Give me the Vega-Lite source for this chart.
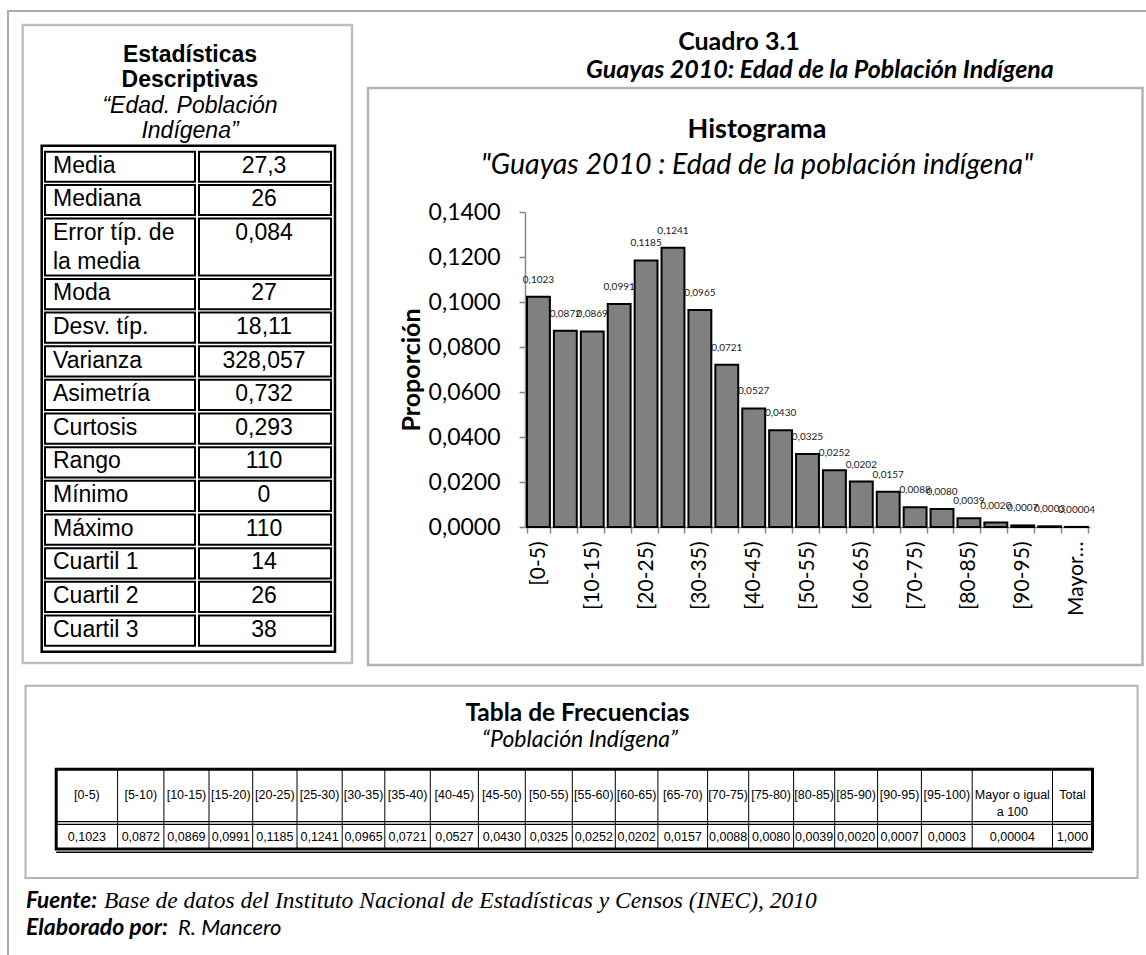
{
  "$schema": "https://vega.github.io/schema/vega-lite/v6.json",
  "width": 1146,
  "height": 955,
  "autosize": {"type": "none"},
  "padding": 0,
  "background": "#ffffff",
  "config": {"view": {"stroke": null}, "text": {"color": "#000000"}},
  "datasets": {
    "hist": [
      {"bin": "[0-5)", "p": 0.1023, "label": "0,1023"},
      {"bin": "[5-10)", "p": 0.0872, "label": "0,0872"},
      {"bin": "[10-15)", "p": 0.0869, "label": "0,0869"},
      {"bin": "[15-20)", "p": 0.0991, "label": "0,0991"},
      {"bin": "[20-25)", "p": 0.1185, "label": "0,1185"},
      {"bin": "[25-30)", "p": 0.1241, "label": "0,1241"},
      {"bin": "[30-35)", "p": 0.0965, "label": "0,0965"},
      {"bin": "[35-40)", "p": 0.0721, "label": "0,0721"},
      {"bin": "[40-45)", "p": 0.0527, "label": "0,0527"},
      {"bin": "[45-50)", "p": 0.0430, "label": "0,0430"},
      {"bin": "[50-55)", "p": 0.0325, "label": "0,0325"},
      {"bin": "[55-60)", "p": 0.0252, "label": "0,0252"},
      {"bin": "[60-65)", "p": 0.0202, "label": "0,0202"},
      {"bin": "[65-70)", "p": 0.0157, "label": "0,0157"},
      {"bin": "[70-75)", "p": 0.0088, "label": "0,0088"},
      {"bin": "[75-80)", "p": 0.0080, "label": "0,0080"},
      {"bin": "[80-85)", "p": 0.0039, "label": "0,0039"},
      {"bin": "[85-90)", "p": 0.0020, "label": "0,0020"},
      {"bin": "[90-95)", "p": 0.0007, "label": "0,0007"},
      {"bin": "[95-100)", "p": 0.0003, "label": "0,0003"},
      {"bin": "Mayor o igual a 100", "p": 0.00004, "label": "0,00004"}
    ],
    "stats": [
      {"row": 0, "next": 1, "stat": "Media", "value": "27,3"},
      {"row": 1, "next": 2, "stat": "Mediana", "value": "26"},
      {"row": 2, "next": 3, "stat": ["Error típ. de", "la media"], "value": "0,084"},
      {"row": 3, "next": 4, "stat": "Moda", "value": "27"},
      {"row": 4, "next": 5, "stat": "Desv. típ.", "value": "18,11"},
      {"row": 5, "next": 6, "stat": "Varianza", "value": "328,057"},
      {"row": 6, "next": 7, "stat": "Asimetría", "value": "0,732"},
      {"row": 7, "next": 8, "stat": "Curtosis", "value": "0,293"},
      {"row": 8, "next": 9, "stat": "Rango", "value": "110"},
      {"row": 9, "next": 10, "stat": "Mínimo", "value": "0"},
      {"row": 10, "next": 11, "stat": "Máximo", "value": "110"},
      {"row": 11, "next": 12, "stat": "Cuartil 1", "value": "14"},
      {"row": 12, "next": 13, "stat": "Cuartil 2", "value": "26"},
      {"row": 13, "next": 14, "stat": "Cuartil 3", "value": "38"}
    ],
    "freq": [
      {"col": 0, "header": "[0-5)", "value": "0,1023"},
      {"col": 1, "header": "[5-10)", "value": "0,0872"},
      {"col": 2, "header": "[10-15)", "value": "0,0869"},
      {"col": 3, "header": "[15-20)", "value": "0,0991"},
      {"col": 4, "header": "[20-25)", "value": "0,1185"},
      {"col": 5, "header": "[25-30)", "value": "0,1241"},
      {"col": 6, "header": "[30-35)", "value": "0,0965"},
      {"col": 7, "header": "[35-40)", "value": "0,0721"},
      {"col": 8, "header": "[40-45)", "value": "0,0527"},
      {"col": 9, "header": "[45-50)", "value": "0,0430"},
      {"col": 10, "header": "[50-55)", "value": "0,0325"},
      {"col": 11, "header": "[55-60)", "value": "0,0252"},
      {"col": 12, "header": "[60-65)", "value": "0,0202"},
      {"col": 13, "header": "[65-70)", "value": "0,0157"},
      {"col": 14, "header": "[70-75)", "value": "0,0088"},
      {"col": 15, "header": "[75-80)", "value": "0,0080"},
      {"col": 16, "header": "[80-85)", "value": "0,0039"},
      {"col": 17, "header": "[85-90)", "value": "0,0020"},
      {"col": 18, "header": "[90-95)", "value": "0,0007"},
      {"col": 19, "header": "[95-100)", "value": "0,0003"},
      {"col": 20, "header": ["Mayor o igual", "a 100"], "value": "0,00004"},
      {"col": 21, "header": "Total", "value": "1,000"}
    ]
  },
  "data": {"values": [{}]},
  "resolve": {"scale": {"x": "independent", "y": "independent"}, "axis": {"x": "independent", "y": "independent"}},
  "layer": [
    {
      "data": {"name": "hist"},
      "encoding": {
        "x": {
          "field": "bin", "type": "nominal", "sort": null,
          "scale": {"range": [525, 1090], "paddingInner": 0.15, "paddingOuter": 0.075},
          "axis": {
            "orient": "bottom", "offset": -428, "title": null, "labelAngle": -90,
            "labelExpr": "indexof(['[0-5)','[10-15)','[20-25)','[30-35)','[40-45)','[50-55)','[60-65)','[70-75)','[80-85)','[90-95)'], datum.value) >= 0 ? datum.value : (datum.value == 'Mayor o igual a 100' ? 'Mayor…' : '')",
            "labelFont": "Lato", "labelFontSize": 21, "labelColor": "#000000", "labelPadding": 8,
            "labelOverlap": false, "tickBand": "extent", "tickSize": 6, "tickWidth": 1.5,
            "tickColor": "#868686", "domainColor": "#868686", "domainWidth": 1.5
          }
        },
        "y": {
          "field": "p", "type": "quantitative",
          "scale": {"domain": [0, 0.14], "range": [527, 212], "nice": false},
          "axis": {
            "orient": "left", "offset": -525, "values": [0, 0.02, 0.04, 0.06, 0.08, 0.1, 0.12, 0.14],
            "labelExpr": "replace(format(datum.value, '.4f'), '.', ',')",
            "title": "Proporción", "titleFont": "Lato", "titleFontSize": 25, "titleFontWeight": "bold",
            "titleColor": "#000000", "titlePadding": 4,
            "labelFont": "Lato", "labelFontSize": 23, "labelColor": "#000000", "labelPadding": 19,
            "grid": false, "tickSize": 6, "tickWidth": 1.5, "tickColor": "#868686",
            "domainColor": "#868686", "domainWidth": 1.5
          }
        }
      },
      "layer": [
        {"mark": {"type": "bar", "fill": "#808080", "stroke": "#000000", "strokeWidth": 2}},
        {"mark": {"type": "text", "font": "Lato", "fontSize": 10, "baseline": "middle", "dy": -17, "color": "#1a1a1a"},
         "encoding": {"text": {"field": "label"}}}
      ]
    },
    {
      "data": {"name": "stats"},
      "layer": [
        {
          "mark": {"type": "rect", "fill": "transparent", "stroke": "#000000", "strokeWidth": 2, "yOffset": 1.7, "y2Offset": -1.7, "x2Offset": -2},
          "encoding": {
            "x": {"datum": 0, "type": "quantitative", "scale": {"type": "linear", "domain": [0, 1, 2], "range": [45, 197, 331], "nice": false, "zero": false}, "axis": null},
            "x2": {"datum": 1},
            "y": {"field": "row", "type": "quantitative", "scale": {"type": "linear", "domain": [0, 1, 2, 3, 14], "range": [150, 183.4, 216.7, 277.2, 647.4], "nice": false, "zero": false}, "axis": null},
            "y2": {"field": "next"}
          }
        },
        {
          "mark": {"type": "rect", "fill": "transparent", "stroke": "#000000", "strokeWidth": 2, "yOffset": 1.7, "y2Offset": -1.7, "xOffset": 2},
          "encoding": {
            "x": {"datum": 1, "type": "quantitative", "axis": null},
            "x2": {"datum": 2},
            "y": {"field": "row", "type": "quantitative", "axis": null},
            "y2": {"field": "next"}
          }
        },
        {
          "data": {"values": [{}]},
          "mark": {"type": "rect", "fill": "transparent", "stroke": "#000000", "strokeWidth": 2.5, "xOffset": -3.3, "x2Offset": 4, "yOffset": -4.3, "y2Offset": 4.3},
          "encoding": {
            "x": {"datum": 0, "type": "quantitative", "axis": null},
            "x2": {"datum": 2},
            "y": {"datum": 0, "type": "quantitative", "axis": null},
            "y2": {"datum": 14}
          }
        },
        {
          "mark": {"type": "text", "font": "Liberation Sans", "fontSize": 23, "align": "left", "baseline": "top", "dx": 8, "dy": 5, "lineHeight": 29},
          "encoding": {
            "x": {"datum": 0, "type": "quantitative", "axis": null},
            "y": {"field": "row", "type": "quantitative", "axis": null},
            "text": {"field": "stat"}
          }
        },
        {
          "mark": {"type": "text", "font": "Liberation Sans", "fontSize": 23, "align": "center", "baseline": "top", "dy": 5},
          "encoding": {
            "x": {"datum": 1.5, "type": "quantitative", "axis": null},
            "y": {"field": "row", "type": "quantitative", "axis": null},
            "text": {"field": "value"}
          }
        }
      ]
    },
    {
      "resolve": {"scale": {"x": "independent"}},
      "layer": [
        {
          "layer": [
            {
              "data": {"values": [{}]},
              "mark": {"type": "rect", "fill": "transparent", "stroke": "#000000", "strokeWidth": 3},
              "encoding": {
                "x": {"datum": 0, "type": "quantitative", "scale": {"type": "linear", "domain": [0,1,2,3,4,5,6,7,8,9,10,11,12,13,14,15,16,17,18,19,20,21,22], "range": [56.2,117.6,163.9,209,252.7,297,342.2,384.8,430.3,478.4,525.3,572.3,615.3,657.9,707.6,748.7,793.6,834.7,877.6,921.4,972.2,1052.5,1092.5], "nice": false, "zero": false}, "axis": null},
                "x2": {"datum": 22},
                "y": {"datum": 0, "type": "quantitative", "scale": {"type": "linear", "domain": [0, 1, 2], "range": [769.3, 822.7, 849], "nice": false, "zero": false}, "axis": null},
                "y2": {"datum": 2}
              }
            },
            {
              "data": {"name": "freq"},
              "mark": {"type": "rule", "stroke": "#000000", "strokeWidth": 1},
              "encoding": {
                "x": {"field": "col", "type": "quantitative", "axis": null},
                "y": {"datum": 0, "type": "quantitative", "axis": null},
                "y2": {"datum": 2}
              }
            },
            {
              "data": {"values": [{}]},
              "mark": {"type": "rule", "stroke": "#000000", "strokeWidth": 1.2, "yOffset": -1},
              "encoding": {
                "x": {"datum": 0, "type": "quantitative", "axis": null},
                "x2": {"datum": 22},
                "y": {"datum": 1, "type": "quantitative", "axis": null}
              }
            },
            {
              "data": {"values": [{}]},
              "mark": {"type": "rule", "stroke": "#000000", "strokeWidth": 1.2, "yOffset": 1.6},
              "encoding": {
                "x": {"datum": 0, "type": "quantitative", "axis": null},
                "x2": {"datum": 22},
                "y": {"datum": 1, "type": "quantitative", "axis": null}
              }
            },
            {
              "data": {"values": [{}]},
              "mark": {"type": "rule", "stroke": "#000000", "strokeWidth": 1.5, "yOffset": 3.2},
              "encoding": {
                "x": {"datum": 0, "type": "quantitative", "axis": null},
                "x2": {"datum": 22},
                "y": {"datum": 2, "type": "quantitative", "axis": null}
              }
            }
          ]
        },
        {
          "data": {"name": "freq"},
          "layer": [
            {
              "mark": {"type": "text", "font": "Liberation Sans", "fontSize": 12.5, "align": "center", "baseline": "middle", "lineHeight": 17, "dy": -1},
              "encoding": {
                "x": {"field": "col", "type": "quantitative", "scale": {"type": "linear", "domain": [0,1,2,3,4,5,6,7,8,9,10,11,12,13,14,15,16,17,18,19,20,21], "range": [86.9,140.75,186.45,230.85,274.85,319.6,363.5,407.55,454.35,501.85,548.8,593.8,636.6,682.75,728.15,771.15,814.15,856.15,899.5,946.8,1012.35,1072.5], "nice": false, "zero": false}, "axis": null},
                "y": {"datum": 0.5, "type": "quantitative", "axis": null},
                "text": {"field": "header"}
              }
            },
            {
              "mark": {"type": "text", "font": "Liberation Sans", "fontSize": 12.5, "align": "center", "baseline": "middle", "dy": 1},
              "encoding": {
                "x": {"field": "col", "type": "quantitative", "axis": null},
                "y": {"datum": 1.5, "type": "quantitative", "axis": null},
                "text": {"field": "value"}
              }
            }
          ]
        }
      ]
    },
    {
      "layer": [
        {
          "mark": {"type": "rect", "fill": "transparent", "stroke": "#ababab", "strokeWidth": 2},
          "encoding": {
            "x": {"datum": 8, "type": "quantitative", "scale": {"domain": [0, 1146], "range": [0, 1146], "nice": false, "zero": false}, "axis": null},
            "x2": {"datum": 1170},
            "y": {"datum": 11, "type": "quantitative", "scale": {"domain": [0, 955], "range": [0, 955], "nice": false, "zero": false}, "axis": null},
            "y2": {"datum": 980}
          }
        },
        {
          "mark": {"type": "rect", "fill": "transparent", "stroke": "#bfbfbf", "strokeWidth": 2.5},
          "encoding": {
            "x": {"datum": 22.7, "type": "quantitative", "axis": null},
            "x2": {"datum": 352},
            "y": {"datum": 25, "type": "quantitative", "axis": null},
            "y2": {"datum": 663}
          }
        },
        {
          "mark": {"type": "rect", "fill": "transparent", "stroke": "#b3b3b3", "strokeWidth": 2.5},
          "encoding": {
            "x": {"datum": 368, "type": "quantitative", "axis": null},
            "x2": {"datum": 1142.5},
            "y": {"datum": 88, "type": "quantitative", "axis": null},
            "y2": {"datum": 665}
          }
        },
        {
          "mark": {"type": "rect", "fill": "transparent", "stroke": "#b3b3b3", "strokeWidth": 2},
          "encoding": {
            "x": {"datum": 25.5, "type": "quantitative", "axis": null},
            "x2": {"datum": 1137.6},
            "y": {"datum": 685.7, "type": "quantitative", "axis": null},
            "y2": {"datum": 878}
          }
        },
        {
          "mark": {"type": "text", "text": ["Estadísticas", "Descriptivas"], "font": "Liberation Sans", "fontSize": 23, "fontWeight": "bold", "align": "center", "baseline": "alphabetic", "lineHeight": 25.6},
          "encoding": {"x": {"datum": 190, "type": "quantitative", "axis": null}, "y": {"datum": 61.7, "type": "quantitative", "axis": null}}
        },
        {
          "mark": {"type": "text", "text": ["“Edad. Población", "Indígena”"], "font": "Liberation Sans", "fontSize": 23, "fontStyle": "italic", "align": "center", "baseline": "alphabetic", "lineHeight": 25},
          "encoding": {"x": {"datum": 190, "type": "quantitative", "axis": null}, "y": {"datum": 113.3, "type": "quantitative", "axis": null}}
        },
        {
          "mark": {"type": "text", "text": "Cuadro 3.1", "font": "Lato", "fontSize": 25, "fontWeight": "bold", "align": "center", "baseline": "alphabetic"},
          "encoding": {"x": {"datum": 739, "type": "quantitative", "axis": null}, "y": {"datum": 50, "type": "quantitative", "axis": null}}
        },
        {
          "mark": {"type": "text", "text": "Guayas 2010: Edad de la Población Indígena", "font": "Lato", "fontSize": 25, "fontWeight": "bold", "fontStyle": "italic", "align": "center", "baseline": "alphabetic"},
          "encoding": {"x": {"datum": 820, "type": "quantitative", "axis": null}, "y": {"datum": 78, "type": "quantitative", "axis": null}}
        },
        {
          "mark": {"type": "text", "text": "Histograma", "font": "Lato", "fontSize": 27, "fontWeight": "bold", "align": "center", "baseline": "alphabetic"},
          "encoding": {"x": {"datum": 757, "type": "quantitative", "axis": null}, "y": {"datum": 138.3, "type": "quantitative", "axis": null}}
        },
        {
          "mark": {"type": "text", "text": "\"Guayas 2010 : Edad de la población indígena\"", "font": "Lato", "fontSize": 28.5, "fontStyle": "italic", "align": "center", "baseline": "alphabetic"},
          "encoding": {"x": {"datum": 757, "type": "quantitative", "axis": null}, "y": {"datum": 174, "type": "quantitative", "axis": null}}
        },
        {
          "mark": {"type": "text", "text": "Tabla de Frecuencias", "font": "Lato", "fontSize": 24.5, "fontWeight": "bold", "align": "center", "baseline": "alphabetic"},
          "encoding": {"x": {"datum": 577.5, "type": "quantitative", "axis": null}, "y": {"datum": 720.5, "type": "quantitative", "axis": null}}
        },
        {
          "mark": {"type": "text", "text": "“Población Indígena”", "font": "Lato", "fontSize": 23, "fontStyle": "italic", "align": "center", "baseline": "alphabetic"},
          "encoding": {"x": {"datum": 580, "type": "quantitative", "axis": null}, "y": {"datum": 747, "type": "quantitative", "axis": null}}
        },
        {
          "mark": {"type": "text", "text": "Fuente:", "font": "Lato", "fontSize": 22.5, "fontWeight": "bold", "fontStyle": "italic", "align": "left", "baseline": "alphabetic"},
          "encoding": {"x": {"datum": 26, "type": "quantitative", "axis": null}, "y": {"datum": 908, "type": "quantitative", "axis": null}}
        },
        {
          "mark": {"type": "text", "text": "Base de datos del  Instituto Nacional de Estadísticas y Censos  (INEC), 2010", "font": "Liberation Serif", "fontSize": 23.5, "fontStyle": "italic", "align": "left", "baseline": "alphabetic"},
          "encoding": {"x": {"datum": 104, "type": "quantitative", "axis": null}, "y": {"datum": 908, "type": "quantitative", "axis": null}}
        },
        {
          "mark": {"type": "text", "text": "Elaborado por:", "font": "Lato", "fontSize": 23, "fontWeight": "bold", "fontStyle": "italic", "align": "left", "baseline": "alphabetic"},
          "encoding": {"x": {"datum": 26, "type": "quantitative", "axis": null}, "y": {"datum": 935, "type": "quantitative", "axis": null}}
        },
        {
          "mark": {"type": "text", "text": "R. Mancero", "font": "Lato", "fontSize": 22, "fontStyle": "italic", "align": "left", "baseline": "alphabetic"},
          "encoding": {"x": {"datum": 178, "type": "quantitative", "axis": null}, "y": {"datum": 935, "type": "quantitative", "axis": null}}
        }
      ]
    }
  ]
}
